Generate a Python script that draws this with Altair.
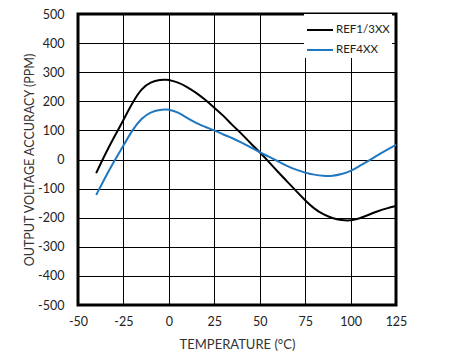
import altair as alt
import pandas as pd

temps = [-40, -35, -30, -25, -20, -15, -10, -5, -2, 0, 5, 10, 15, 20, 25, 30, 35, 40, 45,
         50, 55, 60, 65, 70, 75, 80, 85, 90, 95, 100, 105, 110, 115, 120, 125]
ref13 = [-47, 18, 78, 136, 194, 240, 264, 273, 274, 273, 264, 249, 229, 205, 178, 150, 118, 88, 56,
         25, -8, -42, -75, -108, -140, -168, -188, -201, -208, -209, -202, -190, -178, -168, -160]
ref4 = [-122, -62, -5, 48, 100, 139, 161, 170, 172, 171, 161, 143, 126, 112, 100, 86, 73, 58, 42,
        25, 10, -6, -22, -35, -45, -52, -56, -56, -50, -39, -22, -4, 15, 33, 50]
series = ["REF1/3XX", "REF4XX"]
colors = ["#000000", "#1f77bf"]
x_ticks = [-50, -25, 0, 25, 50, 75, 100, 125]
y_ticks = [-500, -400, -300, -200, -100, 0, 100, 200, 300, 400, 500]

rows = []
for t, v in zip(temps, ref13):
    rows.append({"t": t, "v": v, "s": series[0]})
for t, v in zip(temps, ref4):
    rows.append({"t": t, "v": v, "s": series[1]})
df = pd.DataFrame(rows)

FONT = "Lato"

chart = alt.Chart(df).mark_line(strokeWidth=2, interpolate="natural").encode(
    x=alt.X("t:Q", scale=alt.Scale(domain=[-50, 125], nice=False, zero=False),
            axis=alt.Axis(values=x_ticks, title="TEMPERATURE (°C)", labelPadding=10,
                          titlePadding=11, labelFlush=False, labelExpr="'' + datum.value")),
    y=alt.Y("v:Q", scale=alt.Scale(domain=[-500, 500], nice=False),
            axis=alt.Axis(values=y_ticks, title="OUTPUT VOLTAGE ACCURACY (PPM)", labelPadding=14,
                          titlePadding=1, titleFontSize=12.5, labelFlush=False,
                          labelExpr="'' + datum.value")),
    color=alt.Color("s:N", scale=alt.Scale(domain=series, range=colors),
                    legend=alt.Legend(title=None, orient="none", legendX=226, legendY=0,
                                      symbolType="stroke", symbolSize=676, symbolStrokeWidth=2,
                                      labelFontSize=11.5, labelFont=FONT, labelColor="#222222",
                                      fillColor="white", padding=2, rowPadding=0,
                                      labelOffset=2)),
).properties(
    width=318, height=291,
    autosize=alt.AutoSizeParams(type="none"),
    padding={"left": 70, "top": 6, "right": 71, "bottom": 53},
).configure_view(
    stroke="black", strokeWidth=3
).configure_axis(
    grid=True, gridColor="black", gridOpacity=1, gridWidth=1,
    domain=False, ticks=False, tickSize=0,
    labelFont=FONT, labelFontSize=12.5, labelColor="#222222",
    titleFont=FONT, titleFontSize=13, titleColor="#333333", titleFontWeight="normal",
)

chart.save("out.html", embed_options={"renderer": "svg", "actions": False})
